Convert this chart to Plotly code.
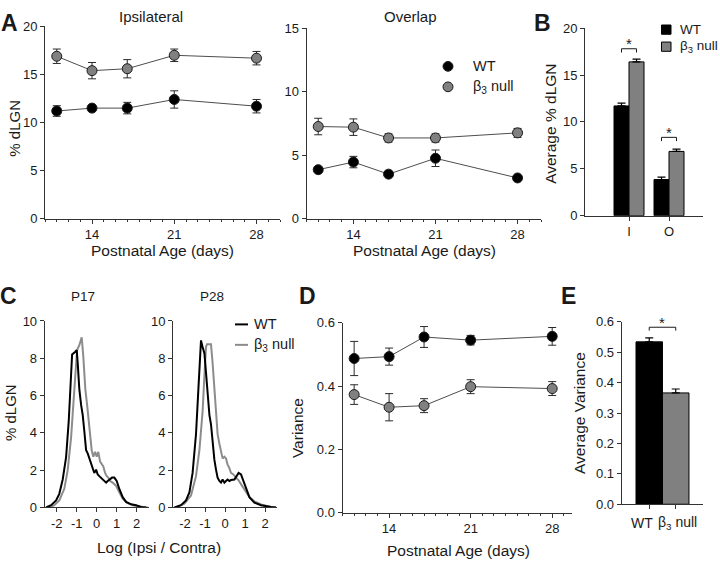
import plotly.graph_objects as go

W, H = 720, 569
def fx(p): return p / W
def fy(p): return 1 - p / H

# ---------------- data ----------------
days = [11, 14, 17, 21, 28]
ipsi_wt = [11.2, 11.5, 11.5, 12.4, 11.7]
ipsi_wt_err = [0.55, 0.3, 0.6, 0.9, 0.7]
ipsi_null = [16.9, 15.4, 15.6, 17.0, 16.7]
ipsi_null_err = [0.75, 0.85, 0.95, 0.65, 0.7]

overlap_wt = [3.85, 4.45, 3.5, 4.75, 3.2]
overlap_wt_err = [0.15, 0.45, 0.15, 0.65, 0.15]
overlap_null = [7.25, 7.2, 6.35, 6.35, 6.75]
overlap_null_err = [0.65, 0.65, 0.32, 0.32, 0.35]

b_categories = ["I", "O"]
b_wt = [11.7, 3.85]
b_wt_err = [0.3, 0.25]
b_null = [16.4, 6.85]
b_null_err = [0.3, 0.25]

c_ticks = [-2, -1, 0, 1, 2]
c_ticktext = ["-2", "-1", "0", "1", "2"]
p17_wt_x = [-2.53, -2.28, -2.03, -1.87, -1.7, -1.53, -1.4, -1.28, -1.23, -1.07, -1.0, -0.95, -0.87,
            -0.78, -0.7, -0.62, -0.53, -0.45, -0.37, -0.28, -0.2, -0.12, -0.03, 0.05, 0.13, 0.22,
            0.3, 0.38, 0.47, 0.55, 0.63, 0.77, 0.88, 1.0, 1.13, 1.3, 1.47, 1.72, 1.97, 2.22, 2.47]
p17_wt_y = [0, 0.12, 0.38, 0.73, 1.5, 2.7, 4.6, 6.9, 8.2, 8.35, 8.44, 7.75, 6.36,
            5.5, 4.97, 4.1, 3.07, 2.9, 2.63, 2.29, 2.1, 1.85, 2.03, 1.77, 1.68, 1.6,
            1.5, 1.42, 1.33, 1.42, 1.5, 1.6, 1.6, 1.42, 0.99, 0.55, 0.3, 0.17, 0.12, 0.03, 0]
p17_null_x = [-2.37, -2.12, -1.87, -1.62, -1.45, -1.28, -1.17, -1.07, -0.98, -0.87, -0.75, -0.67,
              -0.57, -0.48, -0.4, -0.33, -0.25, -0.17, -0.08, 0.0, 0.08, 0.17, 0.25, 0.33, 0.42,
              0.5, 0.58, 0.67, 0.8, 0.97, 1.13, 1.3, 1.5, 1.8, 2.13, 2.55]
p17_null_y = [0, 0.12, 0.38, 1.0, 2.0, 3.76, 5.5, 7.4, 8.44, 8.7, 9.13, 8.1,
              6.36, 5.5, 4.63, 3.59, 3.07, 2.72, 2.98, 2.72, 2.98, 2.46, 2.29, 2.2, 1.85,
              1.68, 1.6, 1.42, 1.33, 1.16, 0.81, 0.47, 0.26, 0.12, 0.05, 0]
p28_wt_x = [-2.53, -2.2, -1.95, -1.78, -1.62, -1.45, -1.33, -1.25, -1.2, -1.12, -1.03, -0.95, -0.87,
            -0.78, -0.7, -0.62, -0.53, -0.45, -0.37, -0.28, -0.2, -0.12, -0.03, 0.05, 0.13, 0.22,
            0.3, 0.47, 0.6, 0.68, 0.8, 0.93, 1.05, 1.22, 1.47, 1.8, 2.3, 2.55]
p28_wt_y = [0, 0.12, 0.38, 0.81, 1.85, 3.93, 6.36, 8.27, 8.96, 8.61, 8.27, 7.23, 6.19,
            4.97, 4.45, 3.41, 2.55, 2.03, 1.6, 1.42, 1.33, 1.5, 1.33, 1.42, 1.5, 1.42,
            1.47, 1.5, 1.77, 1.85, 1.77, 1.42, 0.99, 0.55, 0.26, 0.12, 0.02, 0]
p28_null_x = [-2.45, -2.03, -1.7, -1.45, -1.28, -1.12, -1.03, -0.95, -0.9, -0.78, -0.7, -0.62,
              -0.53, -0.45, -0.37, -0.28, -0.2, -0.12, -0.03, 0.05, 0.13, 0.22, 0.3, 0.42,
              0.55, 0.67, 0.8, 1.0, 1.22, 1.47, 1.8, 2.3, 2.55]
p28_null_y = [0, 0.2, 0.64, 1.68, 3.07, 5.15, 7.06, 8.61, 8.75, 8.75, 8.75, 7.75,
              6.53, 5.15, 3.93, 3.41, 3.07, 2.63, 2.72, 2.63, 2.29, 2.11, 1.85, 1.77,
              1.6, 1.47, 1.25, 0.9, 0.55, 0.33, 0.16, 0.03, 0]

var_wt = [0.487, 0.493, 0.555, 0.545, 0.557]
var_wt_err = [0.054, 0.027, 0.033, 0.015, 0.028]
var_null = [0.373, 0.333, 0.338, 0.398, 0.392]
var_null_err = [0.031, 0.043, 0.022, 0.022, 0.022]

e_categories = ["WT", "β<sub>3</sub> null"]
e_var = [0.534, 0.366]
e_var_err = [0.013, 0.013]

# ---------------- style ----------------
FONT = "Liberation Sans, Arial, sans-serif"
AX = "#333333"
TXT = "#1a1a1a"
GRAY = "#808080"
CGRAY = "#8c8c8c"
LINE = "#4d4d4d"

fig = go.Figure()

def pts(x, y, err, color, xa, ya):
    fig.add_trace(go.Scatter(
        x=x, y=y, mode="lines+markers", xaxis=xa, yaxis=ya, showlegend=False,
        line=dict(color=LINE, width=1),
        marker=dict(size=10, color=color, line=dict(color="#1a1a1a", width=1)),
        error_y=dict(type="data", array=err, color="#2a2a2a", thickness=1, width=4),
        hoverinfo="skip"))

pts(days, ipsi_null, ipsi_null_err, GRAY, "x", "y")
pts(days, ipsi_wt, ipsi_wt_err, "#000000", "x", "y")
pts(days, overlap_null, overlap_null_err, GRAY, "x2", "y2")
pts(days, overlap_wt, overlap_wt_err, "#000000", "x2", "y2")
pts(days, var_wt, var_wt_err, "#000000", "x6", "y6")
pts(days, var_null, var_null_err, GRAY, "x6", "y6")

# B bars
fig.add_trace(go.Bar(x=b_categories, y=b_wt, width=0.375, offset=-0.375, xaxis="x3", yaxis="y3",
                     marker=dict(color="#000000", line=dict(color="#000000", width=1)),
                     error_y=dict(type="data", symmetric=False, array=b_wt_err, arrayminus=[0, 0],
                                  color="#000000", thickness=1.2, width=4),
                     showlegend=False, hoverinfo="skip"))
fig.add_trace(go.Bar(x=b_categories, y=b_null, width=0.375, offset=0, xaxis="x3", yaxis="y3",
                     marker=dict(color=GRAY, line=dict(color="#000000", width=1)),
                     error_y=dict(type="data", symmetric=False, array=b_null_err, arrayminus=[0, 0],
                                  color="#000000", thickness=1.2, width=4),
                     showlegend=False, hoverinfo="skip"))

# C curves
for xs, ys, col, xa, ya in [(p17_null_x, p17_null_y, CGRAY, "x4", "y4"),
                            (p17_wt_x, p17_wt_y, "#000000", "x4", "y4"),
                            (p28_null_x, p28_null_y, CGRAY, "x5", "y5"),
                            (p28_wt_x, p28_wt_y, "#000000", "x5", "y5")]:
    fig.add_trace(go.Scatter(x=xs, y=ys, mode="lines", xaxis=xa, yaxis=ya, showlegend=False,
                             line=dict(color=col, width=2), hoverinfo="skip"))

# E bars
fig.add_trace(go.Bar(x=e_categories, y=e_var, width=1, xaxis="x7", yaxis="y7",
                     marker=dict(color=["#000000", GRAY], line=dict(color="#000000", width=1)),
                     error_y=dict(type="data", symmetric=False, array=e_var_err, arrayminus=[0, 0],
                                  color="#000000", thickness=1.2, width=4),
                     showlegend=False, hoverinfo="skip"))

def ax(dom, rng, **kw):
    d = dict(domain=dom, range=rng, showline=True, linecolor=AX, linewidth=1,
             ticks="outside", ticklen=4, tickcolor=AX, tickwidth=1, showgrid=False,
             zeroline=False, fixedrange=True,
             tickfont=dict(family=FONT, size=13, color=TXT))
    d.update(kw)
    return d

minor = dict(dtick=1, tick0=0, ticks="outside", ticklen=2.5, tickcolor=AX, showgrid=False)

fig.update_layout(
    width=W, height=H, margin=dict(l=0, r=0, t=0, b=0),
    paper_bgcolor="white", plot_bgcolor="white",
    font=dict(family=FONT, color=TXT), barmode="overlay",
    xaxis=ax([fx(45), fx(280)], [10, 30], anchor="y", tickmode="linear", tick0=0, dtick=7, minor=minor),
    yaxis=ax([fy(217.3), fy(20)], [0, 20], anchor="x", dtick=5),
    xaxis2=ax([fx(306.5), fx(541)], [10, 30], anchor="y2", tickmode="linear", tick0=0, dtick=7, minor=minor),
    yaxis2=ax([fy(217.3), fy(21.7)], [0, 15], anchor="x2", dtick=5),
    xaxis3=ax([fx(585), fx(703)], [-1.1, 1.85], anchor="y3", type="category"),
    yaxis3=ax([fy(214.3), fy(21.7)], [0, 20], anchor="x3", dtick=5),
    xaxis4=ax([fx(44.7), fx(148.7)], [-2.6, 2.6], anchor="y4", tickmode="array",
              tickvals=c_ticks, ticktext=c_ticktext),
    yaxis4=ax([fy(514), fy(322.5)], [0, 10], anchor="x4", dtick=2),
    xaxis5=ax([fx(173), fx(277)], [-2.6, 2.6], anchor="y5", tickmode="array",
              tickvals=c_ticks, ticktext=c_ticktext),
    yaxis5=ax([fy(514), fy(322.5)], [0, 10], anchor="x5", dtick=2),
    xaxis6=ax([fx(342.5), fx(572)], [10, 29.7], anchor="y6", tickmode="linear", tick0=0, dtick=7, minor=minor),
    yaxis6=ax([fy(519.3), fy(324.3)], [0, 0.6], anchor="x6", dtick=0.2, tickformat=".1f"),
    xaxis7=ax([fx(621.7), fx(703)], [-1.04, 2.03], anchor="y7", type="category",
              showticklabels=False),
    yaxis7=ax([fy(510.7), fy(323.3)], [0, 0.6], anchor="x7", dtick=0.1, tickformat=".1f"),
)

ann = []
def txt(x, y, s, size=15, angle=0, xanchor="center", bold=False):
    ann.append(dict(x=fx(x), y=fy(y), xref="paper", yref="paper", text=("<b>%s</b>" % s) if bold else s,
                    showarrow=False, textangle=angle, xanchor=xanchor, yanchor="middle",
                    font=dict(family=FONT, size=size, color=TXT)))

# panel letters
txt(9, 16, "A", 23, bold=True)
txt(542, 16, "B", 23, bold=True)
txt(8, 297, "C", 23, bold=True)
txt(307, 297, "D", 23, bold=True)
txt(568, 297, "E", 23, bold=True)

# titles
txt(151, 10, "Ipsilateral", 15)
txt(410, 10, "Overlap", 15)
txt(15, 125, "% dLGN", 15, -90)
txt(162, 250, "Postnatal Age (days)", 15.5)
txt(424, 250, "Postnatal Age (days)", 15.5)
txt(551, 120, "Average % dLGN", 15.5, -90)
txt(82.5, 297, "P17", 13.5)
txt(211.5, 297, "P28", 13.5)
txt(10, 417, "% dLGN", 15, -90)
txt(159, 555, "Log (Ipsi / Contra)", 15.5)
txt(297.5, 433, "Variance", 15.5, -90)
txt(458, 558, "Postnatal Age (days)", 15.5)
txt(579, 417, "Average Variance", 15.5, -90)

# E category labels (placed as in the reference)
for i, (lab, dx) in enumerate(zip(e_categories, [-7, 2])):
    ann.append(dict(x=i, y=0, xref="x7", yref="y7", text=lab, showarrow=False, xshift=dx,
                    yshift=-19, yanchor="middle", font=dict(family=FONT, size=14, color=TXT)))

# legends
txt(471, 61, "WT", 14.5, xanchor="left")
txt(471, 82, "β<sub>3</sub> null", 14.5, xanchor="left")
txt(678, 23.5, "WT", 13.5, xanchor="left")
txt(678, 41, "β<sub>3</sub> null", 13.5, xanchor="left")
txt(252, 326, "WT", 14.5, xanchor="left")
txt(252, 347, "β<sub>3</sub> null", 14.5, xanchor="left")

# significance stars
for xa, ya, xc, yv in [("x3", "y3", 0, 18.4), ("x3", "y3", 1, 8.9), ("x7", "y7", 0.5, 0.598)]:
    ann.append(dict(x=xc, y=yv, xref=xa, yref=ya, text="*", showarrow=False, yanchor="middle",
                    font=dict(family=FONT, size=15, color=TXT)))
fig.update_layout(annotations=ann)

shapes = []
# legend markers
shapes.append(dict(type="circle", xref="paper", yref="paper", x0=fx(443), x1=fx(453), y0=fy(56), y1=fy(66),
                   fillcolor="#000000", line=dict(color="#1a1a1a", width=1)))
shapes.append(dict(type="circle", xref="paper", yref="paper", x0=fx(443), x1=fx(453), y0=fy(77), y1=fy(87),
                   fillcolor=GRAY, line=dict(color="#1a1a1a", width=1)))
shapes.append(dict(type="rect", xref="paper", yref="paper", x0=fx(661.5), x1=fx(671), y0=fy(18.5), y1=fy(28),
                   fillcolor="#000000", line=dict(color="#000000", width=1)))
shapes.append(dict(type="rect", xref="paper", yref="paper", x0=fx(661.5), x1=fx(671), y0=fy(36), y1=fy(45.5),
                   fillcolor=GRAY, line=dict(color="#000000", width=1)))
shapes.append(dict(type="line", xref="paper", yref="paper", x0=fx(235), x1=fx(248), y0=fy(326), y1=fy(326),
                   line=dict(color="#000000", width=2)))
shapes.append(dict(type="line", xref="paper", yref="paper", x0=fx(235), x1=fx(248), y0=fy(347), y1=fy(347),
                   line=dict(color=CGRAY, width=2)))

# brackets
def bracket(xa, ya, x0, x1, ylo, yhi):
    for a, b, c, d in [(x0, ylo, x0, yhi), (x0, yhi, x1, yhi), (x1, yhi, x1, ylo)]:
        shapes.append(dict(type="line", xref=xa, yref=ya, x0=a, y0=b, x1=c, y1=d,
                           line=dict(color="#1a1a1a", width=1)))
bracket("x3", "y3", -0.1875, 0.1875, 17.4, 17.8)
bracket("x3", "y3", 0.8125, 1.1875, 7.95, 8.35)
bracket("x7", "y7", 0, 1, 0.571, 0.582)
fig.update_layout(shapes=shapes)

fig.write_html("out.html", config={"displayModeBar": False, "staticPlot": True},
               post_script="document.body.style.margin='0px';document.body.style.overflow='hidden';")
